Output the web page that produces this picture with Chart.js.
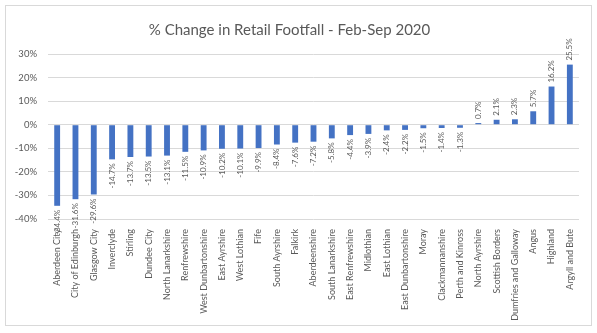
<!DOCTYPE html>
<html>
<head>
<meta charset="utf-8">
<title>Retail Footfall</title>
<script src="https://cdn.jsdelivr.net/npm/chart.js@4.4.1/dist/chart.umd.min.js"></script>
<style>
    html, body { margin: 0; padding: 0; background: #fff; }
    #wrap { width: 597px; height: 333px; position: relative; }
</style>
</head>
<body>
<div id="wrap"><canvas id="footfall"></canvas></div>
<script>
const councils = [
    'Aberdeen City', 'City of Edinburgh', 'Glasgow City', 'Inverclyde', 'Stirling',
    'Dundee City', 'North Lanarkshire', 'Renfrewshire', 'West Dunbartonshire', 'East Ayrshire',
    'West Lothian', 'Fife', 'South Ayrshire', 'Falkirk', 'Aberdeenshire',
    'South Lanarkshire', 'East Renfrewshire', 'Midlothian', 'East Lothian', 'East Dunbartonshire',
    'Moray', 'Clackmannanshire', 'Perth and Kinross', 'North Ayrshire', 'Scottish Borders',
    'Dumfries and Galloway', 'Angus', 'Highland', 'Argyll and Bute'
];
const pctChange = [
    -34.4, -31.6, -29.6, -14.7, -13.7,
    -13.5, -13.1, -11.5, -10.9, -10.2,
    -10.1, -9.9, -8.4, -7.6, -7.2,
    -5.8, -4.4, -3.9, -2.4, -2.2,
    -1.5, -1.4, -1.3, 0.7, 2.1,
    2.3, 5.7, 16.2, 25.5
];
const yMin = -40;
const yMax = 30;
const yStep = 10;

const textGrey = '#595959';
const fontFamily = 'Lato, "Liberation Sans", sans-serif';

// white background + thin outline round the whole chart
const frame = {
    id: 'frame',
    beforeDraw(chart) {
        const ctx = chart.ctx;
        ctx.save();
        ctx.fillStyle = '#fff';
        ctx.fillRect(0, 0, chart.width, chart.height);
        ctx.strokeStyle = '#d9d9d9';
        ctx.lineWidth = 1;
        ctx.strokeRect(5.5, 5.5, 586, 320);
        ctx.restore();
    }
};

// value labels, turned on their side, just past the end of each bar
const barLabels = {
    id: 'barLabels',
    afterDatasetsDraw(chart) {
        const ctx = chart.ctx;
        const meta = chart.getDatasetMeta(0);
        ctx.save();
        ctx.font = '8px ' + fontFamily;
        ctx.fillStyle = textGrey;
        ctx.textBaseline = 'middle';
        meta.data.forEach((bar, i) => {
            const v = pctChange[i];
            const text = v.toFixed(1) + '%';
            ctx.save();
            ctx.translate(bar.x, bar.y);
            ctx.rotate(-Math.PI / 2);
            if (v < 0) {
                ctx.textAlign = 'right';
                ctx.fillText(text, -4, 0);
            } else {
                ctx.textAlign = 'left';
                ctx.fillText(text, 4, 0);
            }
            ctx.restore();
        });
        ctx.restore();
    }
};

new Chart(document.getElementById('footfall'), {
    type: 'bar',
    data: {
        labels: councils,
        datasets: [{
            data: pctChange,
            backgroundColor: '#4472c4',
            borderWidth: 0,
            categoryPercentage: 1,
            barPercentage: 0.32
        }]
    },
    options: {
        responsive: true,
        maintainAspectRatio: false,
        animation: false,
        layout: { padding: { left: 0, right: 18, top: 0, bottom: 0 } },
        plugins: {
            legend: { display: false },
            tooltip: { enabled: false },
            title: {
                display: true,
                text: '% Change in Retail Footfall - Feb-Sep 2020',
                color: textGrey,
                font: { family: fontFamily, size: 15, weight: 'normal', lineHeight: 1.2 },
                padding: { top: 21, bottom: 15 }
            }
        },
        scales: {
            x: {
                grid: { display: false, drawTicks: false },
                border: { display: false },
                ticks: {
                    autoSkip: false,
                    minRotation: 90,
                    maxRotation: 90,
                    padding: 10,
                    color: textGrey,
                    font: { family: fontFamily, size: 9 }
                },
                afterFit(scale) { scale.height = 114; }
            },
            y: {
                min: yMin,
                max: yMax,
                grid: { color: '#d9d9d9', lineWidth: 1, drawTicks: false },
                border: { display: false },
                ticks: {
                    stepSize: yStep,
                    padding: 11,
                    color: textGrey,
                    font: { family: fontFamily, size: 9.5 },
                    callback: v => v + '%'
                },
                afterFit(scale) { scale.width = 48; }
            }
        }
    },
    plugins: [frame, barLabels]
});
</script>
</body>
</html>
